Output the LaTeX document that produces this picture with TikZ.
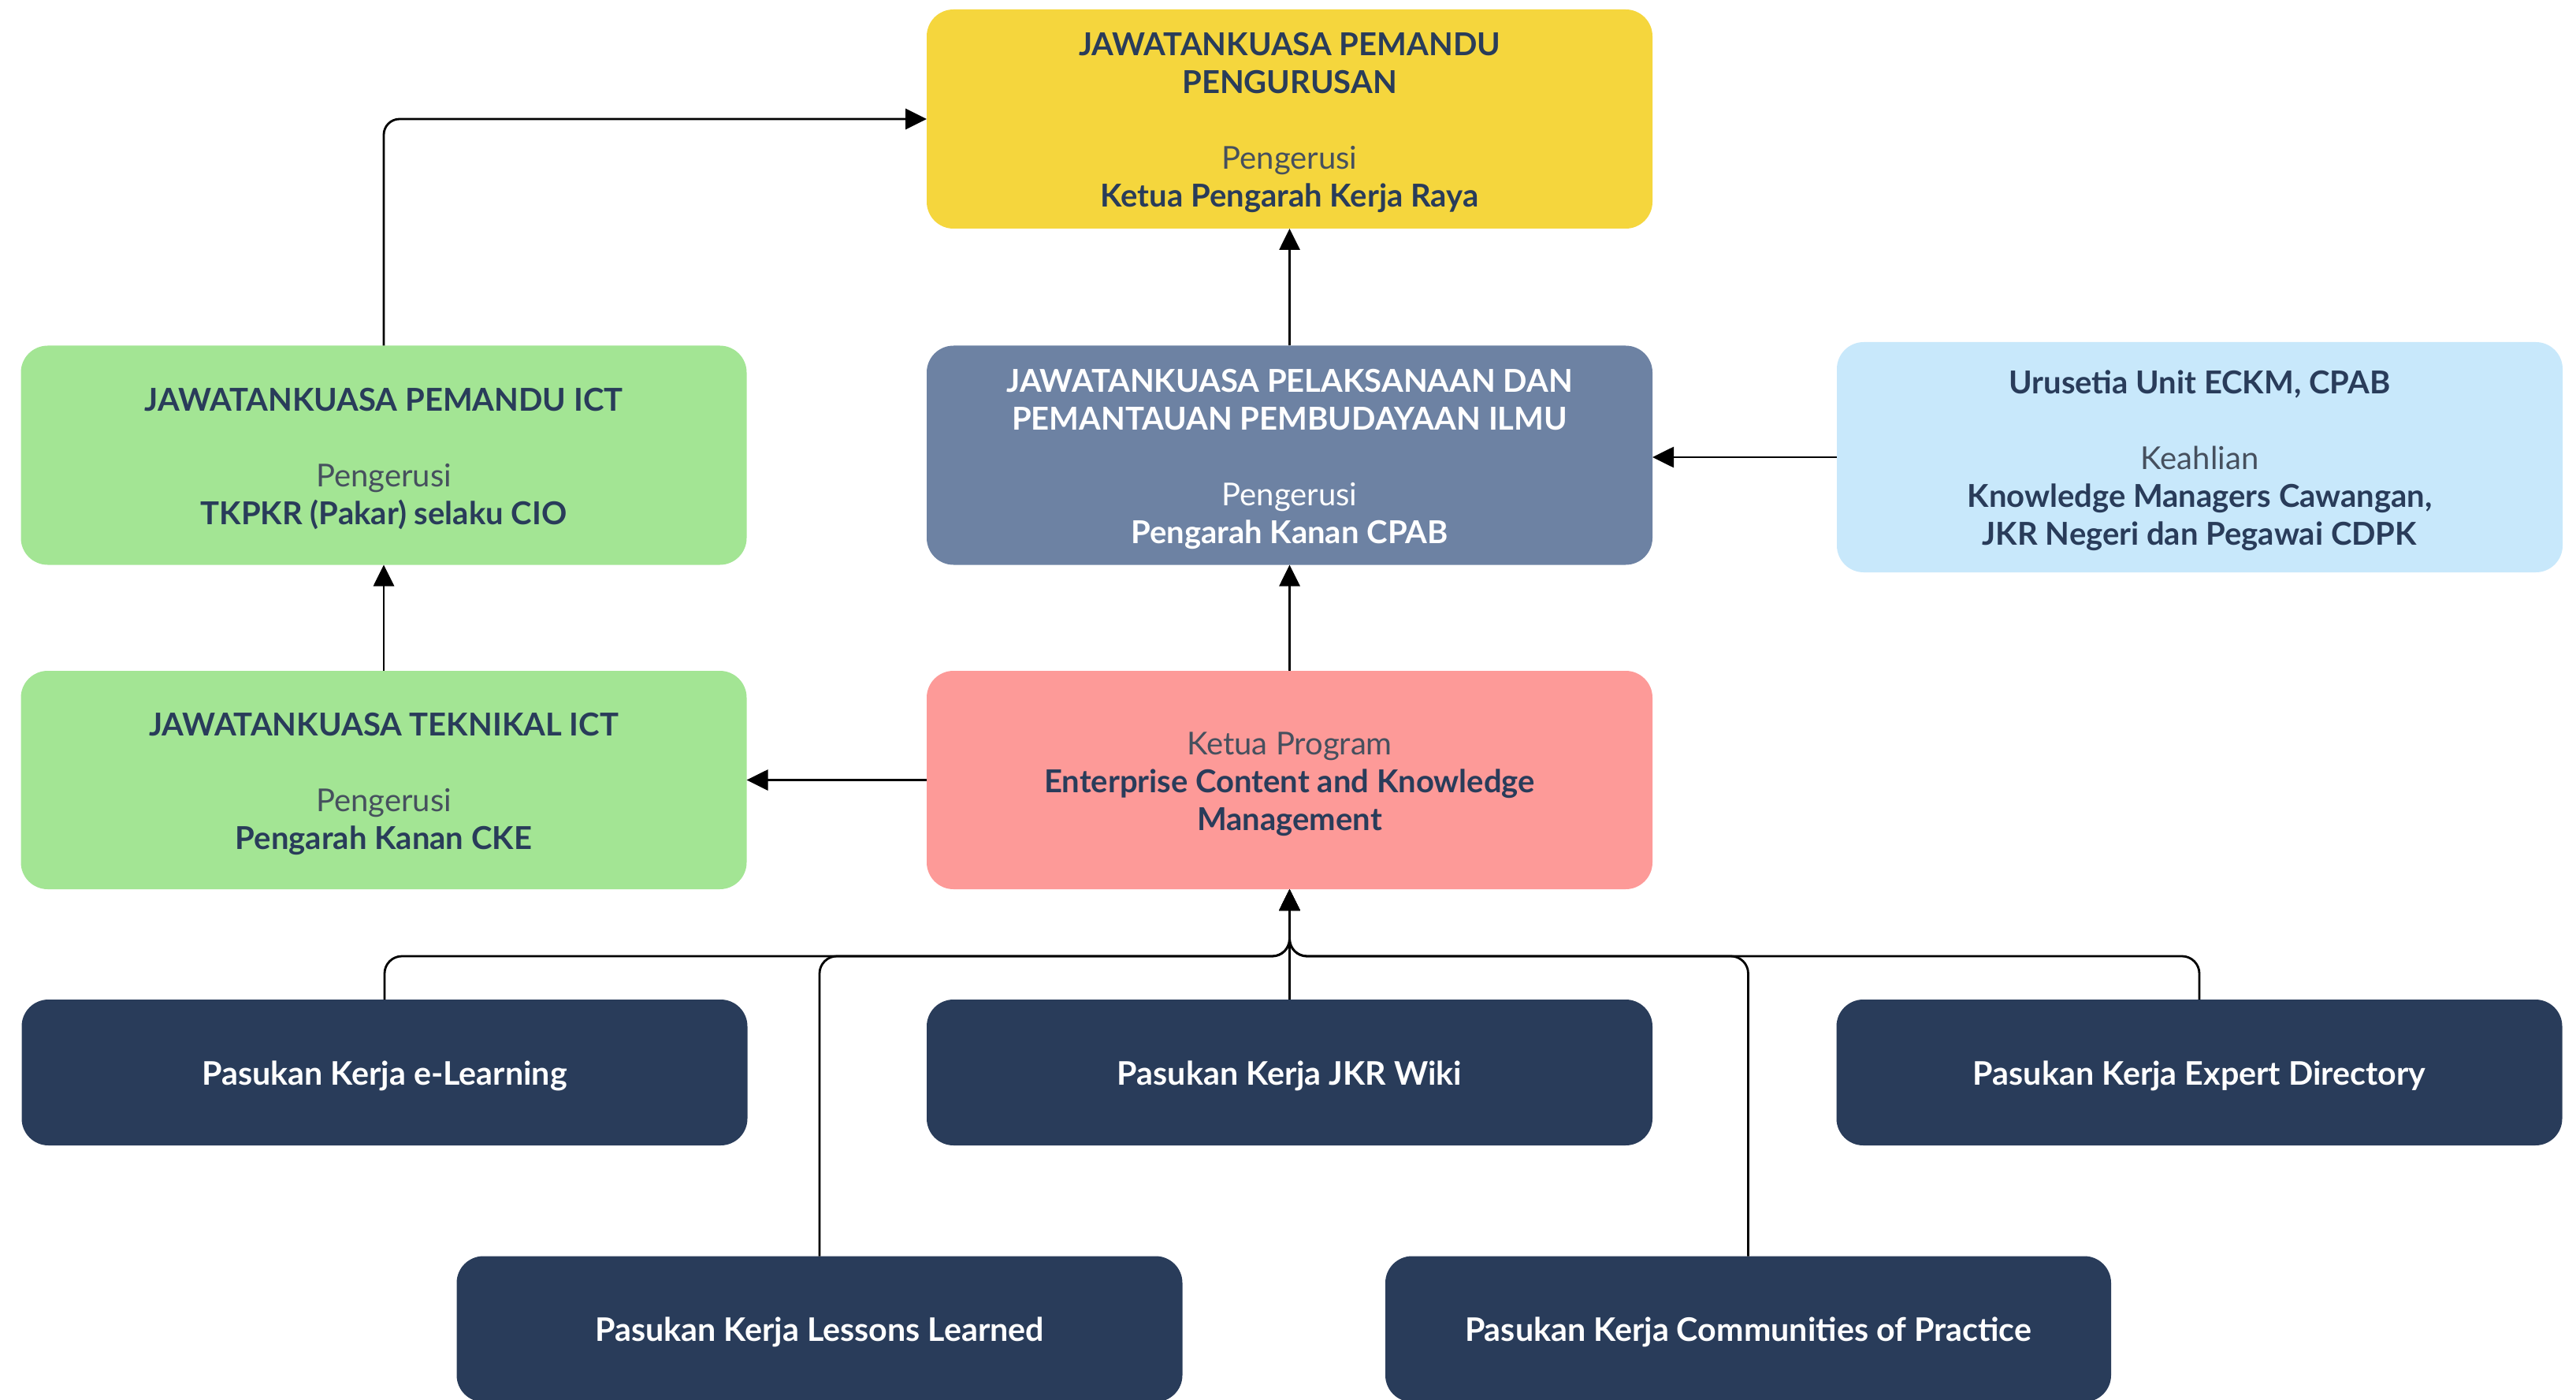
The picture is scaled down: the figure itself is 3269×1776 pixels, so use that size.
\documentclass[tikz,border=0pt]{standalone}
\usepackage{fontspec}
\setmainfont{Lato}
\usetikzlibrary{arrows.meta}
\definecolor{cyellow}{HTML}{F5D63D}
\definecolor{cgreen}{HTML}{A3E594}
\definecolor{cbluegray}{HTML}{6D82A3}
\definecolor{clightblue}{HTML}{C8E8FB}
\definecolor{cpink}{HTML}{FD9A98}
\definecolor{cnavy}{HTML}{293C5A}
\definecolor{cgray}{HTML}{46505E}
\newcommand{\bt}[1]{\raisebox{-1.5pt}[\height][\depth]{\begin{tabular}{@{}c@{}}#1\end{tabular}}}
\begin{document}
\begin{tikzpicture}[x=0.25pt,y=-0.25pt,
  box/.style={rounded corners=8.5pt, inner sep=0pt, outer sep=0pt,
    font=\fontsize{10}{12}\selectfont, text=cnavy, minimum width=230.25pt},
  bigbox/.style={box, minimum height=69.5pt},
  teambox/.style={box, fill=cnavy, text=white, minimum height=46.25pt, font=\fontsize{10.3}{12}\selectfont\bfseries},
  arr/.style={line width=0.7pt, draw=black, -{Triangle[width=6.5pt,length=6.75pt]}}]
\useasboundingbox (0,0) rectangle (3269,1776);
\fill[white] (0,0) rectangle (3269,1776);

% boxes
\node[bigbox, fill=cyellow] (top) at (1636.5,151)
  {\bt{\textbf{JAWATANKUASA PEMANDU}\\\textbf{PENGURUSAN}\\[12pt]{\color{cgray}Pengerusi}\\\textbf{Ketua Pengarah Kerja Raya}}};
\node[bigbox, fill=cgreen] (ict) at (487,577.5)
  {\bt{\textbf{JAWATANKUASA PEMANDU ICT}\\[12pt]{\color{cgray}Pengerusi}\\\textbf{TKPKR (Pakar) selaku CIO}}};
\node[bigbox, fill=cbluegray, text=white] (jpp) at (1636.5,577.5)
  {\bt{\textbf{JAWATANKUASA PELAKSANAAN DAN}\\\textbf{PEMANTAUAN PEMBUDAYAAN ILMU}\\[12pt]Pengerusi\\\textbf{Pengarah Kanan CPAB}}};
\node[box, fill=clightblue, minimum height=73pt] (uru) at (2791.5,580)
  {\bt{\textbf{Urusetia Unit ECKM, CPAB}\\[12pt]{\color{cgray}Keahlian}\\\textbf{Knowledge Managers Cawangan,}\\\textbf{JKR Negeri dan Pegawai CDPK}}};
\node[bigbox, fill=cgreen, minimum height=69.25pt] (tek) at (487,989.5)
  {\bt{\textbf{JAWATANKUASA TEKNIKAL ICT}\\[12pt]{\color{cgray}Pengerusi}\\\textbf{Pengarah Kanan CKE}}};
\node[bigbox, fill=cpink, minimum height=69.25pt] (ecm) at (1636.5,989.5)
  {\bt{{\color{cgray}Ketua Program}\\\textbf{Enterprise Content and Knowledge}\\\textbf{Management}}};

\node[teambox] (el) at (488,1360.5) {\bt{Pasukan Kerja e-Learning}};
\node[teambox] (wiki) at (1636.5,1360.5) {\bt{Pasukan Kerja JKR Wiki}};
\node[teambox] (exp) at (2791,1360.5) {\bt{Pasukan Kerja Expert Directory}};
\node[teambox] (ll) at (1040,1686) {\bt{Pasukan Kerja Lessons Learned}};
\node[teambox] (cop) at (2218.5,1686) {\bt{Pasukan Kerja Communities of Practice}};

% connectors
\draw[arr, rounded corners=5pt] (ict.north) |- (top.west);
\draw[arr] (jpp.north) -- (top.south);
\draw[arr] (uru.west) -- (uru.west -| jpp.east);
\draw[arr] (tek.north) -- (ict.south);
\draw[arr] (ecm.north) -- (jpp.south);
\draw[arr] (ecm.west) -- (tek.east);

\coordinate (bus) at (1636.5,1213);
\draw[arr, rounded corners=5.5pt] (el.north) |- (bus) -- (ecm.south);
\draw[arr, rounded corners=5.5pt] (ll.north) |- (bus) -- (ecm.south);
\draw[arr, rounded corners=5.5pt] (cop.north) |- (bus) -- (ecm.south);
\draw[arr, rounded corners=5.5pt] (exp.north) |- (bus) -- (ecm.south);
\draw[arr] (wiki.north) -- (ecm.south);
\end{tikzpicture}
\end{document}
